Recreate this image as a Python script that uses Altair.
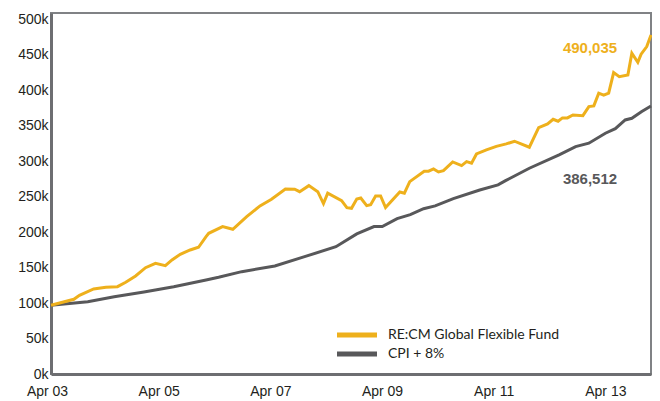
import altair as alt
import pandas as pd

# Series names and colours
fund_name = "RE:CM Global Flexible Fund"
cpi_name = "CPI + 8%"
fund_color = "#EEB01C"
cpi_color = "#58585A"

# Values (x in decimal years, y in thousands)
fund_years = [2003.326, 2003.735, 2003.836, 2004.090, 2004.309, 2004.516, 2004.664, 2004.841,
              2005.019, 2005.197, 2005.374, 2005.493, 2005.641, 2005.818, 2005.968, 2006.103,
              2006.151, 2006.399, 2006.582, 2006.831, 2007.069, 2007.275, 2007.524, 2007.690,
              2007.779, 2007.944, 2008.104, 2008.206, 2008.282, 2008.531, 2008.625, 2008.708,
              2008.802, 2008.874, 2008.980, 2009.051, 2009.140, 2009.229, 2009.318, 2009.573,
              2009.655, 2009.751, 2010.010, 2010.088, 2010.177, 2010.266, 2010.355, 2010.520,
              2010.680, 2010.769, 2010.858, 2010.946, 2011.124, 2011.302, 2011.479, 2011.627,
              2011.893, 2012.060, 2012.220, 2012.319, 2012.408, 2012.486, 2012.575, 2012.674,
              2012.852, 2012.959, 2013.048, 2013.136, 2013.225, 2013.314, 2013.403, 2013.504,
              2013.658, 2013.729, 2013.836, 2013.895, 2013.996, 2014.072]
fund_values = [97.0, 105.4, 111.0, 119.9, 122.3, 123.1, 129.3, 138.2,
               149.9, 156.1, 152.7, 160.8, 168.8, 174.9, 178.7, 193.7,
               198.4, 207.8, 204.1, 221.9, 237.0, 246.4, 260.9, 260.5,
               257.1, 265.6, 257.1, 240.2, 254.9, 244.4, 234.6, 233.7,
               246.8, 248.2, 237.4, 238.8, 251.1, 251.1, 234.6, 256.7,
               254.9, 271.2, 285.9, 285.9, 289.1, 284.9, 286.7, 299.0,
               293.8, 299.4, 297.2, 310.3, 315.9, 320.9, 324.4, 328.2,
               319.7, 347.4, 352.6, 359.2, 356.4, 361.1, 361.1, 365.3,
               364.3, 377.0, 378.0, 395.9, 393.1, 395.9, 425.0, 419.3,
               421.7, 452.3, 439.6, 450.9, 461.6, 478.1]

cpi_years = [2003.326, 2003.984, 2004.458, 2004.991, 2005.524, 2006.103, 2006.328, 2006.742,
             2007.335, 2007.868, 2008.429, 2008.802, 2009.111, 2009.259, 2009.525, 2009.761,
             2009.999, 2010.206, 2010.532, 2011.005, 2011.332, 2011.467, 2011.893, 2012.426,
             2012.722, 2012.959, 2013.255, 2013.433, 2013.610, 2013.729, 2013.907, 2014.072]
cpi_values = [97.0, 102.0, 109.0, 115.7, 123.1, 132.6, 136.4, 144.3,
              152.3, 165.4, 179.5, 197.5, 207.8, 207.8, 219.0, 224.7,
              233.1, 237.0, 247.2, 259.5, 266.6, 272.6, 290.1, 308.9,
              320.6, 325.4, 339.5, 346.0, 358.2, 360.6, 370.0, 378.0]

fund_end_label = "490,035"
cpi_end_label = "386,512"

# Tick positions (April of odd years; first one placed at the start of the series)
x_ticks = [2003.326, 2005.326, 2007.326, 2009.326, 2011.326, 2013.326]
y_ticks = [0, 50, 100, 150, 200, 250, 300, 350, 400, 450, 500]

fund_df = pd.DataFrame({"year": fund_years, "value": fund_values, "series": fund_name})
cpi_df = pd.DataFrame({"year": cpi_years, "value": cpi_values, "series": cpi_name})

x_enc = alt.X(
    "year:Q",
    scale=alt.Scale(domain=[2003.326, 2014.072], nice=False, zero=False),
    axis=alt.Axis(
        values=x_ticks,
        labelExpr="'Apr ' + substring(toString(floor(datum.value)), 2, 4)",
        title=None, grid=False, ticks=False, domain=True,
        domainColor="#6D6E71", domainWidth=3,
        labelFont="Liberation Sans", labelFontSize=14, labelColor="#231F20",
        labelPadding=10, labelFlush=False, labelOverlap=False, labelOffset=-4,
    ),
)
y_enc = alt.Y(
    "value:Q",
    scale=alt.Scale(domain=[0, 509], nice=False, zero=True),
    axis=alt.Axis(
        values=y_ticks,
        labelExpr="datum.value + 'k'",
        title=None, grid=False, ticks=False, domain=True,
        domainColor="#6D6E71", domainWidth=3,
        labelFont="Liberation Sans", labelFontSize=14, labelColor="#231F20",
        labelPadding=3, labelFlush=False, labelOverlap=False,
    ),
)

cpi_line = alt.Chart(cpi_df).mark_line(color=cpi_color, strokeWidth=3).encode(x=x_enc, y=y_enc)
fund_line = alt.Chart(fund_df).mark_line(color=fund_color, strokeWidth=3).encode(x=x_enc, y=y_enc)

fund_text = alt.Chart().mark_text(
    text=fund_end_label, font="Liberation Sans", fontSize=15, fontWeight="bold",
    color=fund_color, align="center", baseline="middle",
).encode(x=alt.value(539), y=alt.value(35))
cpi_text = alt.Chart().mark_text(
    text=cpi_end_label, font="Liberation Sans", fontSize=15, fontWeight="bold",
    color=cpi_color, align="center", baseline="middle",
).encode(x=alt.value(539), y=alt.value(166))

# Legend
leg_fund_sym = alt.Chart().mark_rule(color=fund_color, strokeWidth=5).encode(
    x=alt.value(286), x2=alt.value(326), y=alt.value(322))
leg_cpi_sym = alt.Chart().mark_rule(color=cpi_color, strokeWidth=5).encode(
    x=alt.value(286), x2=alt.value(326), y=alt.value(341))
leg_fund_txt = alt.Chart().mark_text(
    text=fund_name, font="Lato", fontSize=14, color="#231F20", align="left", baseline="middle",
).encode(x=alt.value(337), y=alt.value(322))
leg_cpi_txt = alt.Chart().mark_text(
    text=cpi_name, font="Lato", fontSize=14, color="#231F20", align="left", baseline="middle",
).encode(x=alt.value(337), y=alt.value(341))

chart = alt.layer(
    cpi_line, fund_line, fund_text, cpi_text,
    leg_fund_sym, leg_cpi_sym, leg_fund_txt, leg_cpi_txt,
).properties(
    width=600, height=361,
    autosize=alt.AutoSizeParams(type="none"),
    padding={"left": 43, "top": 5, "right": 1, "bottom": 28},
).configure_view(
    stroke="#808285", strokeWidth=2,
)

chart.save("out.html", embed_options={"renderer": "svg", "actions": False})
